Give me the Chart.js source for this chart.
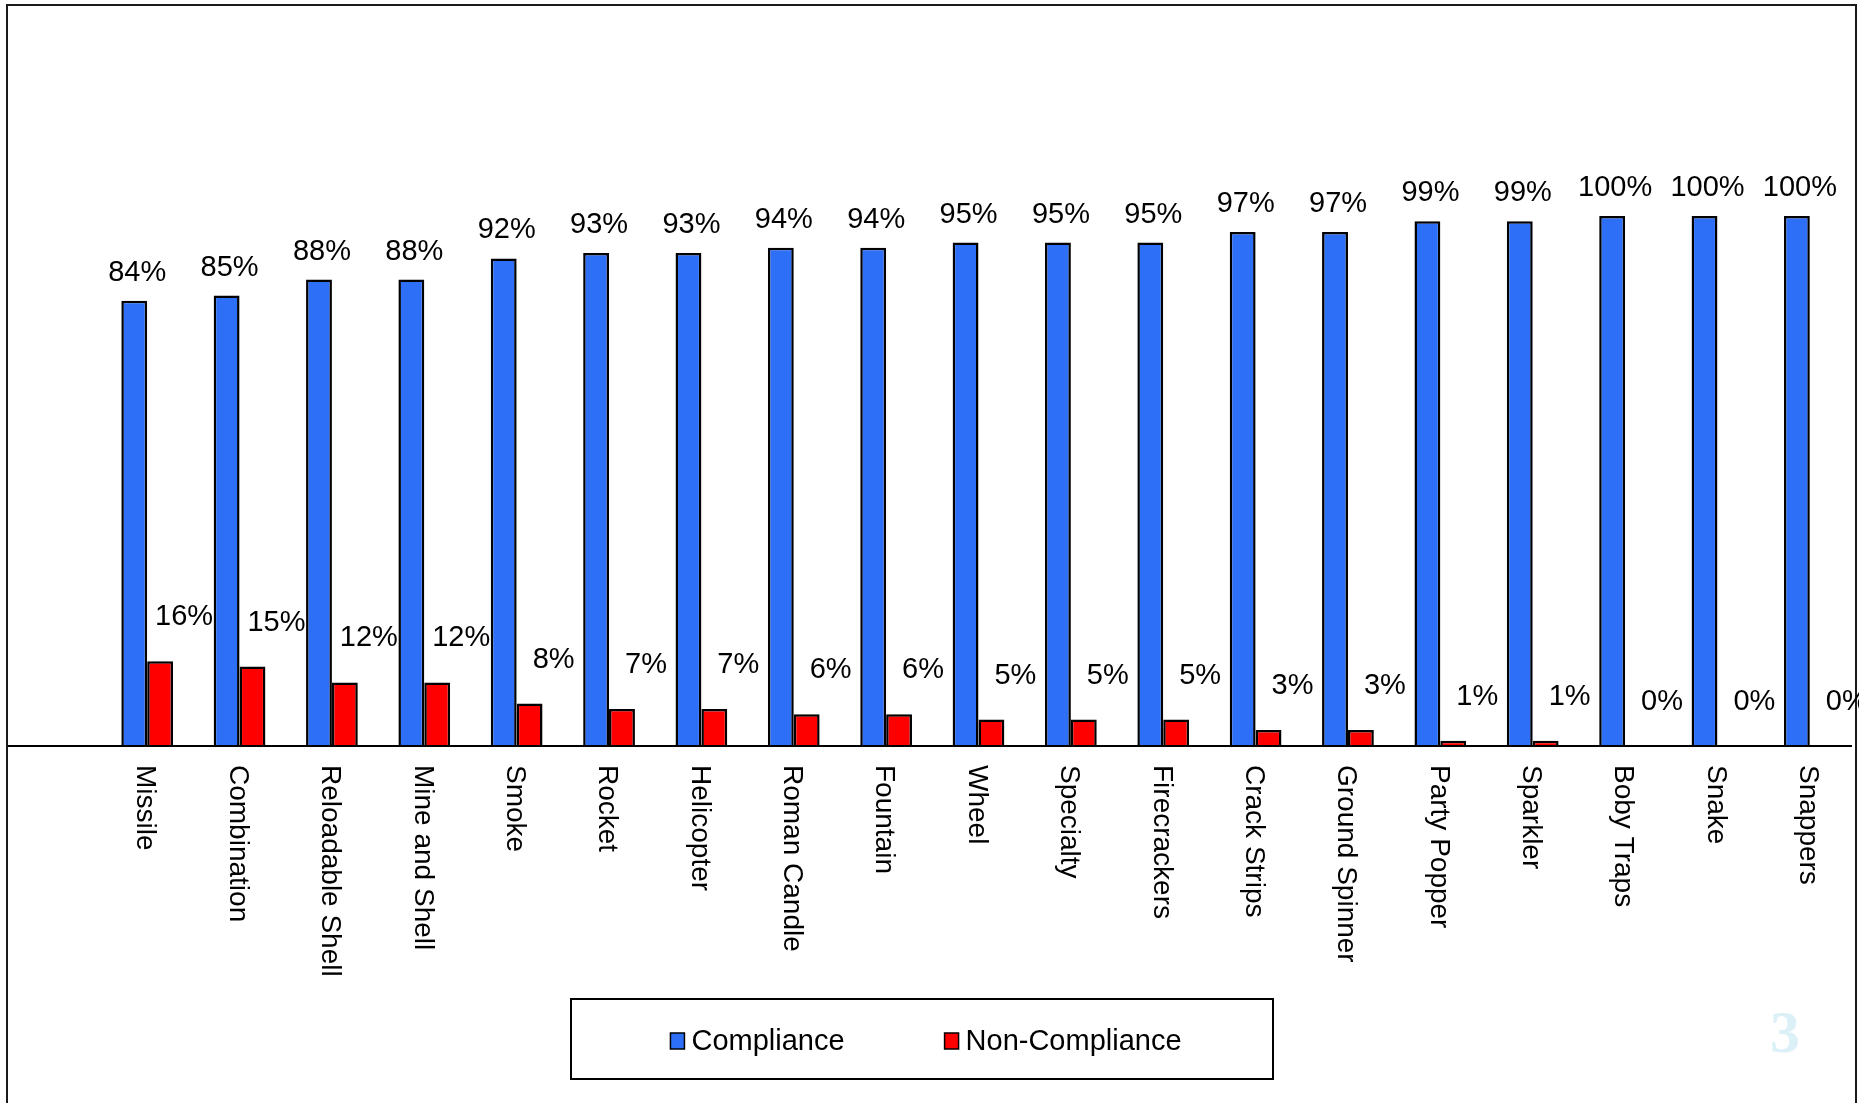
<!DOCTYPE html>
<html>
<head>
<meta charset="utf-8">
<script src="https://cdn.jsdelivr.net/npm/chart.js@4.4.0/dist/chart.umd.min.js"></script>
<style>
  body { margin: 0; background: #fff; }
  canvas { display: block; }
</style>
</head>
<body>
<canvas id="barChart" width="1859" height="1103"></canvas>
<script>
const categories = ["Missile", "Combination", "Reloadable Shell", "Mine and Shell", "Smoke", "Rocket",
    "Helicopter", "Roman Candle", "Fountain", "Wheel", "Specialty", "Firecrackers", "Crack Strips",
    "Ground Spinner", "Party Popper", "Sparkler", "Boby Traps", "Snake", "Snappers"];
const compliance = [84, 85, 88, 88, 92, 93, 93, 94, 94, 95, 95, 95, 97, 97, 99, 99, 100, 100, 100];
const nonCompliance = [16, 15, 12, 12, 8, 7, 7, 6, 6, 5, 5, 5, 3, 3, 1, 1, 0, 0, 0];

const FONT = '"Liberation Sans", Arial, sans-serif';

// frame, baseline, rotated category names, % labels, boxed legend, page number
const extras = {
    id: 'extras',
    afterDatasetsDraw(chart) {
        const ctx = chart.ctx;
        const y0 = chart.scales.y.getPixelForValue(0);
        ctx.save();

        // outer frame
        ctx.strokeStyle = '#1a1a1a';
        ctx.lineWidth = 2;
        ctx.beginPath();
        ctx.moveTo(7, 1110);
        ctx.lineTo(7, 5);
        ctx.lineTo(1856, 5);
        ctx.lineTo(1856, 1110);
        ctx.stroke();

        // category axis line
        ctx.strokeStyle = '#000';
        ctx.beginPath();
        ctx.moveTo(8, y0);
        ctx.lineTo(1852, y0);
        ctx.stroke();

        // category names, reading downwards
        ctx.fillStyle = '#000';
        ctx.font = '28px ' + FONT;
        ctx.textAlign = 'left';
        ctx.textBaseline = 'middle';
        const xs = chart.scales.x;
        categories.forEach((name, i) => {
            ctx.save();
            ctx.translate(xs.getPixelForValue(i) - 2, y0 + 19);
            ctx.rotate(Math.PI / 2);
            ctx.fillText(name, 0, 0);
            ctx.restore();
        });

        // value labels
        ctx.font = '29px ' + FONT;
        ctx.textAlign = 'center';
        const offsets = [[3, -28], [24, -44]];
        chart.data.datasets.forEach((ds, d) => {
            chart.getDatasetMeta(d).data.forEach((bar, i) => {
                ctx.fillText(ds.data[i] + '%', bar.x + offsets[d][0], bar.y + offsets[d][1]);
            });
        });

        // legend
        const lx = 571, ly = 999, lw = 702, lh = 80;
        ctx.lineWidth = 2;
        ctx.strokeStyle = '#000';
        ctx.strokeRect(lx, ly, lw, lh);
        ctx.font = '29px ' + FONT;
        ctx.textAlign = 'left';
        const widths = chart.data.datasets.map(ds => 14 + 7 + ctx.measureText(ds.label).width);
        const gap = 100;
        let x = lx + lw / 2 + 4 - (widths[0] + widths[1] + gap) / 2;
        const cy = ly + lh / 2 + 3;
        chart.data.datasets.forEach((ds, d) => {
            ctx.fillStyle = ds.backgroundColor;
            ctx.fillRect(x, cy - 9, 14, 16);
            ctx.lineWidth = 1.5;
            ctx.strokeStyle = '#000';
            ctx.strokeRect(x, cy - 9, 14, 16);
            ctx.fillStyle = '#000';
            ctx.fillText(ds.label, x + 21, cy);
            x += widths[d] + gap;
        });

        // slide number
        ctx.fillStyle = '#dbf1f7';
        ctx.font = 'bold 60px "Liberation Serif", serif';
        ctx.textAlign = 'center';
        ctx.fillText('3', 1785, 1036);

        ctx.restore();
    }
};

const CHART = document.getElementById('barChart');
let barChart = new Chart(CHART, {
    type: 'bar',
    data: {
        labels: categories,
        datasets: [
            {
                label: "Compliance",
                data: compliance,
                backgroundColor: "#2d70f7",
                borderColor: "#000",
                borderWidth: 2.5,
            },
            {
                label: "Non-Compliance",
                data: nonCompliance,
                backgroundColor: "#ff0000",
                borderColor: "#000",
                borderWidth: 2.5,
            }
        ]
    },
    options: {
        responsive: false,
        animation: false,
        devicePixelRatio: 1,
        layout: { padding: { left: 101, right: 3, top: 110, bottom: 357 } },
        datasets: { bar: { categoryPercentage: 0.56, barPercentage: 1.0 } },
        scales: {
            x: { display: false },
            y: { display: false, min: 0, max: 120 }
        },
        plugins: {
            legend: { display: false },
            tooltip: { enabled: false }
        }
    },
    plugins: [extras]
});
</script>
</body>
</html>
